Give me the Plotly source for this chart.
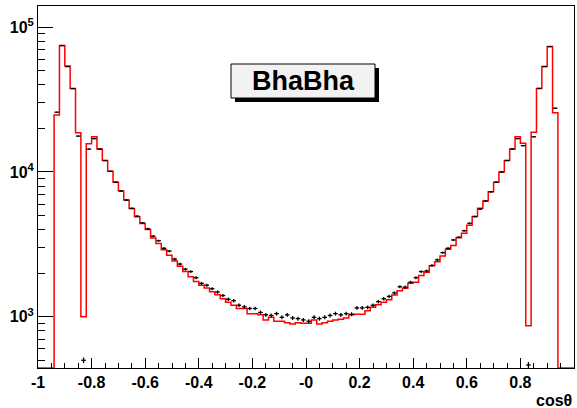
import math
import plotly.graph_objects as go

# ---- data -------------------------------------------------------------
bin_edges = [round(-1 + 0.02 * i, 2) for i in range(101)]
bin_centers = [round(-0.99 + 0.02 * i, 2) for i in range(100)]

mc_counts = [
    0, 0, 0, 24800, 74700, 54000, 37800, 18700, 1000, 15700,
    17500, 14400, 12000, 10100, 8500, 7400, 6400, 5600, 4900, 4400,
    4000, 3500, 3200, 2900, 2660, 2430, 2230, 2050, 1890, 1750,
    1650, 1580, 1490, 1420, 1330, 1260, 1200, 1140, 1140, 1050,
    1050, 1030, 950, 990, 930, 930, 910, 890, 910, 900,
    900, 950, 890, 910, 930, 950, 960, 980, 1030, 1040,
    1040, 1100, 1160, 1210, 1260, 1310, 1410, 1510, 1570, 1700,
    1730, 1930, 2030, 2250, 2400, 2630, 2920, 3110, 3510, 3770,
    4280, 4920, 5620, 6300, 7300, 8500, 10000, 12000, 14400, 17500,
    15800, 867, 18800, 37800, 53500, 73500, 25700, 0, 0, 0,
]

data_counts = [
    0, 0, 0, 25900, 74700, 53500, 37700, 17700, 500, 14400,
    17000, 14400, 12000, 10100, 8500, 7400, 6400, 5600, 4950, 4450,
    4050, 3600, 3350, 2970, 2840, 2500, 2310, 2130, 2050, 1860,
    1700, 1650, 1560, 1480, 1400, 1320, 1290, 1200, 1170, 1140,
    1140, 1070, 1030, 1020, 1050, 990, 1030, 980, 970, 950,
    930, 990, 970, 990, 1020, 1050, 1030, 1050, 1040, 1150,
    1150, 1160, 1200, 1270, 1330, 1380, 1460, 1610, 1600, 1730,
    1860, 2050, 2070, 2260, 2470, 2770, 2970, 3390, 3540, 3930,
    4420, 4920, 5540, 6300, 7300, 8500, 10000, 12000, 14400, 17000,
    15200, 464, 17500, 37800, 53500, 73500, 27600, 0, 0, 0,
]

x_tick_vals = [-1, -0.8, -0.6, -0.4, -0.2, 0, 0.2, 0.4, 0.6, 0.8, 1]
x_tick_text = ["-1", "-0.8", "-0.6", "-0.4", "-0.2", "-0", "0.2", "0.4", "0.6", "0.8", "1"]
x_minor_vals = [round(-1 + 0.05 * i, 2) for i in range(41)]
y_tick_vals = [1e3, 1e4, 1e5]
y_tick_text = ["10<sup>3</sup>", "10<sup>4</sup>", "10<sup>5</sup>"]
y_minor_vals = [m * 10 ** d for d in (2, 3, 4, 5) for m in range(2, 10)]

title_text = "BhaBha"
x_title = "cos\u03b8"

# ---- figure -----------------------------------------------------------
y_log_range = [2.6455, 5.147]
y_floor = 10 ** y_log_range[0]

hist_y = [v if v > 0 else y_floor for v in mc_counts] + [mc_counts[-1] if mc_counts[-1] > 0 else y_floor]

fig = go.Figure()
fig.add_trace(go.Scatter(
    x=bin_edges, y=hist_y, mode="lines", line_shape="hv",
    line=dict(color="#ff0000", width=1.5), showlegend=False, hoverinfo="skip",
))

pts_x = [c for c, v in zip(bin_centers, data_counts) if v > 0]
pts_y = [v for v in data_counts if v > 0]
pts_err = [math.sqrt(v) for v in pts_y]
fig.add_trace(go.Scatter(
    x=pts_x, y=pts_y, mode="markers",
    marker=dict(size=1, color="black"),
    error_x=dict(type="constant", value=0.0085, width=0, thickness=1.3, color="black"),
    error_y=dict(type="data", array=pts_err, width=0, thickness=1.3, color="black"),
    showlegend=False,
))

FONT = "Liberation Sans, Arial, sans-serif"

fig.update_layout(
    width=577, height=408,
    margin=dict(l=38, r=3, t=6, b=40),
    paper_bgcolor="white", plot_bgcolor="white",
    xaxis=dict(
        range=[-1, 1], showgrid=False, zeroline=False, automargin=False,
        showline=True, linecolor="black", linewidth=1, mirror=True,
        ticks="inside", ticklen=10, tickwidth=1, tickcolor="black",
        tickmode="array", tickvals=x_tick_vals, ticktext=x_tick_text,
        tickfont=dict(family=FONT, size=16, color="black", weight="bold"),
        minor=dict(ticks="inside", ticklen=5, tickwidth=1, tickcolor="black",
                   tickmode="array", tickvals=x_minor_vals, showgrid=False),
    ),
    yaxis=dict(
        type="log", range=y_log_range, showgrid=False, zeroline=False, automargin=False,
        showline=True, linecolor="black", linewidth=1, mirror=True,
        ticks="inside", ticklen=15, tickwidth=1, tickcolor="black",
        tickmode="array", tickvals=y_tick_vals, ticktext=y_tick_text,
        tickfont=dict(family=FONT, size=16, color="black", weight="bold"),
        minor=dict(ticks="inside", ticklen=7, tickwidth=1, tickcolor="black",
                   tickmode="array", tickvals=y_minor_vals, showgrid=False),
    ),
    shapes=[
        dict(type="rect", xref="paper", yref="paper",
             x0=(235 - 38) / 536, x1=(379 - 38) / 536,
             y0=(368 - 102) / 362, y1=(368 - 68) / 362,
             fillcolor="black", line=dict(width=0), layer="above"),
        dict(type="rect", xref="paper", yref="paper",
             x0=(231 - 38) / 536, x1=(375 - 38) / 536,
             y0=(368 - 98) / 362, y1=(368 - 64) / 362,
             fillcolor="#f2f2f2", line=dict(color="black", width=1), layer="above"),
    ],
    annotations=[
        dict(text=title_text, xref="paper", yref="paper",
             x=(303 - 38) / 536, y=(368 - 81) / 362, xanchor="center", yanchor="middle",
             showarrow=False, font=dict(family=FONT, size=27, color="black", weight="bold")),
        dict(text=x_title, xref="paper", yref="paper",
             x=1, y=-(400 - 368) / 362, xanchor="right", yanchor="middle",
             showarrow=False, font=dict(family=FONT, size=16, color="black", weight="bold")),
    ],
)

fig.write_html("out.html")
